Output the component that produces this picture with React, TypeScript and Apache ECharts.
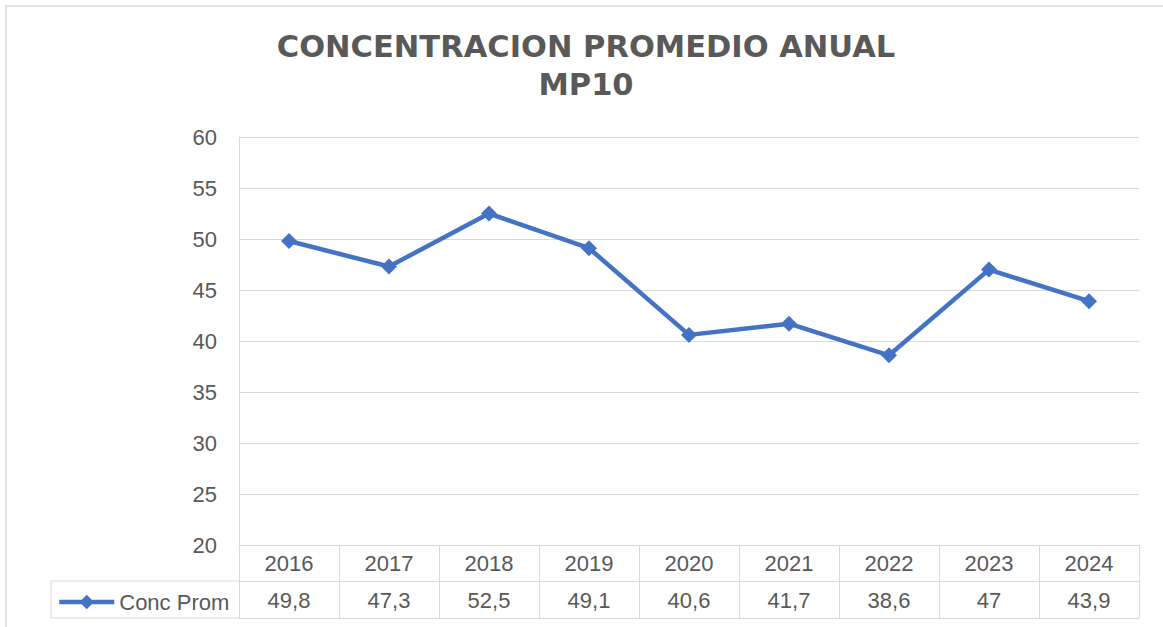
import React, { useEffect, useRef } from "react";
import * as echarts from "echarts";

const titleLines = ["CONCENTRACION PROMEDIO ANUAL", "MP10"];
const seriesName = "Conc Prom";
const years = ["2016", "2017", "2018", "2019", "2020", "2021", "2022", "2023", "2024"];
const values = [49.8, 47.3, 52.5, 49.1, 40.6, 41.7, 38.6, 47, 43.9];
const yMin = 20;
const yMax = 60;
const yStep = 5;

const TEXT = "#595959";
const GRID = "#d9d9d9";
const BLUE = "#4472C4";
const FONT = "'Liberation Sans', Arial, sans-serif";

const fmt = (v: number) => String(v).replace(".", ",");

export default function App() {
  const ref = useRef<HTMLDivElement>(null);
  useEffect(() => {
    if (!ref.current) return;
    const chart = echarts.init(ref.current, null, { renderer: "svg" });
    chart.setOption({
      animation: false,
      backgroundColor: "#ffffff",
      title: {
        text: titleLines.join("\n"),
        left: 586,
        top: 27,
        textAlign: "center",
        padding: 0,
        textStyle: {
          fontFamily: "'DejaVu Sans', sans-serif",
          fontWeight: "bold",
          fontSize: 30.5,
          lineHeight: 38.5,
          color: TEXT,
        },
      },
      legend: {
        data: [seriesName],
        left: 57,
        top: 591,
        padding: 0,
        itemWidth: 55,
        itemHeight: 18,
        lineStyle: { width: 4.5, color: BLUE },
        itemStyle: { color: BLUE },
        textStyle: { fontFamily: FONT, fontSize: 22, color: TEXT },
      },
      grid: { left: 239, right: 24, top: 137, bottom: 82, containLabel: false },
      xAxis: [
        {
          type: "category",
          data: years,
          position: "bottom",
          boundaryGap: true,
          axisLine: { show: true, lineStyle: { color: GRID, width: 1 } },
          axisTick: { show: true, length: 36, interval: 0, lineStyle: { color: GRID, width: 1 } },
          axisLabel: { fontFamily: FONT, fontSize: 22, color: TEXT, margin: 7, interval: 0 },
          splitLine: { show: false },
        },
        {
          type: "category",
          data: values.map(fmt),
          position: "bottom",
          offset: 36,
          boundaryGap: true,
          axisLine: { show: true, lineStyle: { color: GRID, width: 1 } },
          axisTick: { show: true, length: 37, interval: 0, lineStyle: { color: GRID, width: 1 } },
          axisLabel: { fontFamily: FONT, fontSize: 22, color: TEXT, margin: 8, interval: 0 },
          splitLine: { show: false },
        },
        {
          type: "category",
          data: years,
          position: "bottom",
          offset: 73,
          axisLine: { show: true, lineStyle: { color: GRID, width: 1 } },
          axisTick: { show: false },
          axisLabel: { show: false },
          splitLine: { show: false },
        },
      ],
      yAxis: {
        type: "value",
        min: yMin,
        max: yMax,
        interval: yStep,
        axisLine: { show: true, lineStyle: { color: GRID, width: 1 } },
        axisTick: { show: false },
        axisLabel: { fontFamily: FONT, fontSize: 22, color: TEXT, margin: 22 },
        splitLine: { show: true, lineStyle: { color: GRID, width: 1 } },
      },
      series: [
        {
          name: seriesName,
          type: "line",
          xAxisIndex: 0,
          data: values,
          symbol: "diamond",
          symbolSize: 16,
          itemStyle: { color: BLUE },
          lineStyle: { color: BLUE, width: 4.5 },
          emphasis: { disabled: true },
        },
      ],
      graphic: [
        {
          type: "rect",
          shape: { x: 6, y: 6, width: 1180, height: 640 },
          style: { fill: "none", stroke: GRID, lineWidth: 1.5 },
          silent: true,
        },
        {
          type: "line",
          shape: { x1: 51, y1: 581, x2: 239, y2: 581 },
          style: { stroke: GRID, lineWidth: 1 },
          silent: true,
        },
        {
          type: "line",
          shape: { x1: 51, y1: 618, x2: 239, y2: 618 },
          style: { stroke: GRID, lineWidth: 1 },
          silent: true,
        },
        {
          type: "line",
          shape: { x1: 51, y1: 581, x2: 51, y2: 618 },
          style: { stroke: GRID, lineWidth: 1 },
          silent: true,
        },
      ],
    });
    return () => chart.dispose();
  }, []);
  return (
    <div
      ref={ref}
      style={{ position: "fixed", left: 0, top: 0, width: 1163, height: 627 }}
    />
  );
}
